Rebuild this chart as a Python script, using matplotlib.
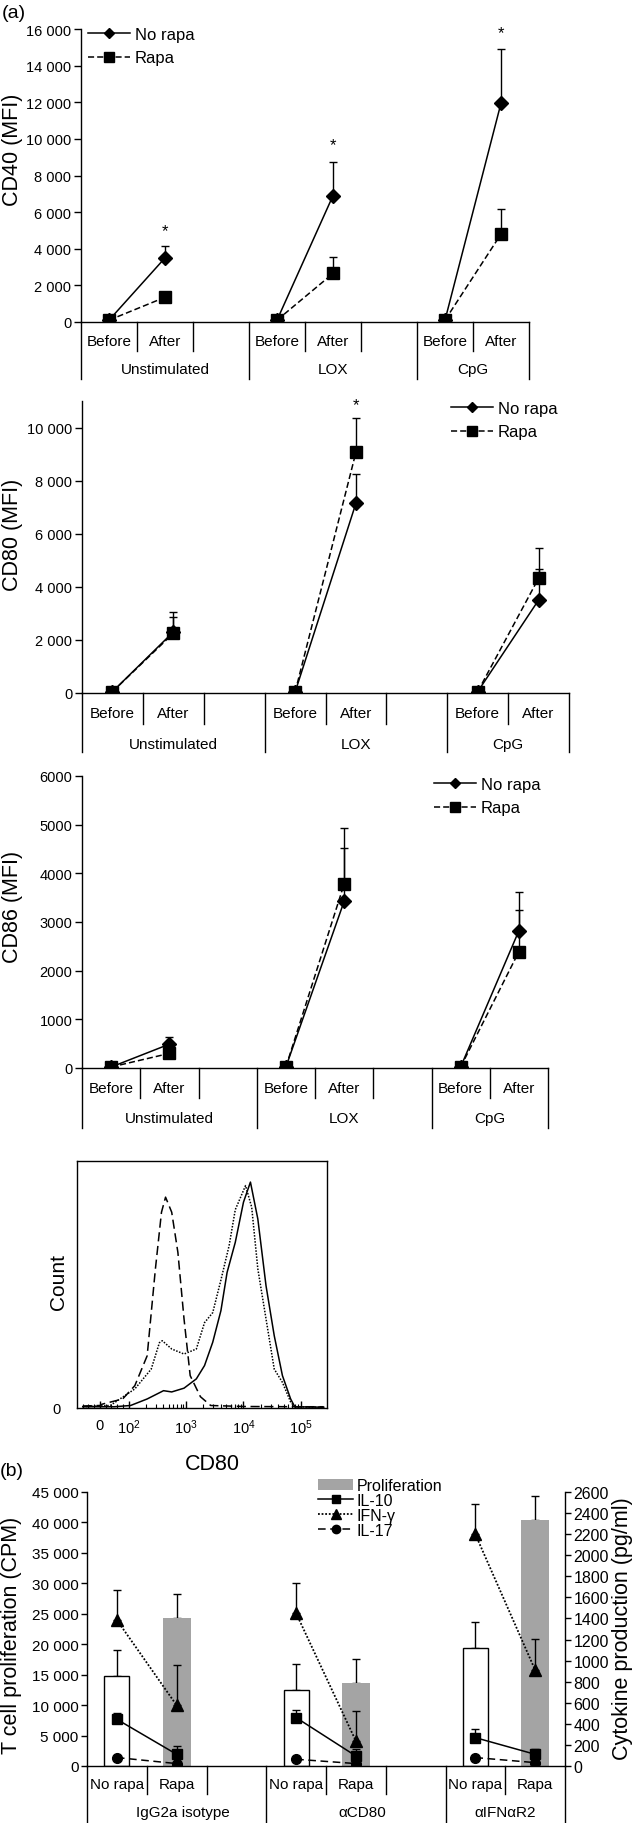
import numpy as np
import matplotlib
matplotlib.use('Agg')
import matplotlib.pyplot as plt
from matplotlib.lines import Line2D
from matplotlib.patches import Patch

plt.rcParams['font.family'] = ['Liberation Sans', 'DejaVu Sans']
plt.rcParams['mathtext.fontset'] = 'custom'
plt.rcParams['mathtext.rm'] = 'Liberation Sans'
plt.rcParams['mathtext.it'] = 'Liberation Sans:italic'
plt.rcParams['mathtext.bf'] = 'Liberation Sans:bold'
plt.rcParams['axes.linewidth'] = 1.0

# ---------------- data ----------------
stim_groups = ['Unstimulated', 'LOX', 'CpG']
timepoints = ['Before', 'After']

# values ordered: group0 before, group0 after, group1 before, ...
cd40_norapa = [100, 3500, 100, 6900, 100, 11950]
cd40_norapa_err = [0, 650, 0, 1850, 0, 2950]
cd40_rapa = [100, 1350, 100, 2650, 100, 4800]
cd40_rapa_err = [0, 0, 0, 900, 0, 1350]
cd40_star_groups = [0, 1, 2]
cd40_star_y = [5000, 9700, 15800]

cd80_norapa = [50, 2300, 30, 7150, 50, 3500]
cd80_norapa_err = [0, 570, 0, 1100, 0, 1170]
cd80_rapa = [50, 2250, 30, 9070, 50, 4320]
cd80_rapa_err = [0, 800, 0, 1280, 0, 1130]
cd80_star_groups = [1]
cd80_star_y = [10850]

cd86_norapa = [20, 490, 20, 3425, 20, 2820]
cd86_norapa_err = [0, 150, 0, 1090, 0, 430]
cd86_rapa = [20, 300, 20, 3780, 20, 2390]
cd86_rapa_err = [0, 200, 0, 1145, 0, 1220]

# flow histogram (CD80 fluorescence, % of max)
hist_dashed_x = [-60, 0, 7, 79, 128, 210, 291, 373, 439, 562, 720, 921, 1179, 1778, 2683, 10000, 100000, 250000]
hist_dashed_y = [0.8, 1, 1.5, 3.6, 8.9, 20.8, 55, 78, 84, 78, 62, 35.5, 12.9, 4.5, 1, 0.6, 0.5, 0.5]
hist_dotted_x = [-60, 36, 128, 247, 343, 385, 562, 921, 1509, 2096, 2913, 4047, 5623, 7197, 10860,
                 13900, 17780, 24700, 34340, 47700, 66300, 78200, 250000]
hist_dotted_y = [0.5, 1, 7.6, 15.5, 26, 26.8, 23.5, 21.5, 23.5, 34, 38, 51, 64.7, 79, 88.6,
                 80, 55.4, 35.5, 15.5, 10.2, 2.4, 0.5, 0.3]
hist_solid_x = [-60, 50, 108, 210, 405, 562, 921, 1509, 2096, 2913, 4047, 5180, 7197, 10000,
                13220, 17780, 24700, 34340, 47700, 66300, 78200, 250000]
hist_solid_y = [0.5, 0.5, 1, 3.6, 6.9, 6.4, 7.9, 11.6, 16.9, 26.2, 38.8, 54, 66, 82,
                90, 75.3, 48.7, 28.8, 12.9, 3.6, 0.5, 0.3]

# panel (b)
ab_groups = ['IgG2a isotype', 'αCD80', 'αIFNαR2']
rapa_cond = ['No rapa', 'Rapa']
prolif = [14780, 24370, 12480, 13580, 19380, 40410]
prolif_err = [4270, 3950, 4340, 4060, 4270, 3940]
il10 = [443, 111, 459, 95, 269, 111]
il10_err = [64, 79, 69, 63, 79, 54]
ifng = [1385, 576, 1449, 237, 2198, 911]
ifng_err = [282, 379, 291, 285, 285, 298]
il17 = [80, 23, 64, 23, 80, 32]

# ---------------- layout helpers ----------------
W, H = 634, 1824
fig = plt.figure(figsize=(W / 100, H / 100), dpi=100)


def box(l, t, r, b):
    return [l / W, 1 - b / H, (r - l) / W, (b - t) / H]


def slot_x(i):
    # index in the 6-value lists -> slot centre
    return (i // 2) * 3 + (i % 2) + 0.5


def cat_axis(ax, groups, subs, sub_drop, grp_drop, sub_lab, grp_lab, grp_pos, fs=11):
    hpx = ax.get_position().height * H
    tr = ax.get_xaxis_transform()
    for b in range(9):
        drop = grp_drop if b in (0, 3, 6, 8) else sub_drop
        ax.add_line(Line2D([b, b], [0, -drop / hpx], transform=tr, clip_on=False,
                           color='black', lw=1))
    for g in range(3):
        for s in range(2):
            ax.text(g * 3 + s + 0.5, -sub_lab / hpx, subs[s], transform=tr,
                    ha='center', va='center', fontsize=fs)
        ax.text(grp_pos[g], -grp_lab / hpx, groups[g], transform=tr,
                ha='center', va='center', fontsize=fs)


def space_fmt(v, pos=None):
    return f'{int(round(v)):,}'.replace(',', ' ')


def mfi_panel(rect, ymax, ystep, norapa, norapa_err, rapa, rapa_err, star_g, star_y,
              ylabel, ylab_y, leg_xy, fmt, cat_geom, ms_sq=9):
    ax = fig.add_axes(box(*rect))
    ax.set_xlim(0, 8)
    ax.set_ylim(0, ymax)
    for g in range(3):
        idx = [2 * g, 2 * g + 1]
        xs = [slot_x(i) for i in idx]
        ax.plot(xs, [rapa[i] for i in idx], color='black', lw=1.1, ls=(0, (4, 2)),
                marker='s', ms=ms_sq, zorder=3)
        ax.plot(xs, [norapa[i] for i in idx], color='black', lw=1.1, ls='-',
                marker='D', ms=7, zorder=4)
    for vals, errs in ((norapa, norapa_err), (rapa, rapa_err)):
        sel = [i for i in range(6) if errs[i] > 0]
        ax.errorbar([slot_x(i) for i in sel], [vals[i] for i in sel],
                    yerr=[[0] * len(sel), [errs[i] for i in sel]], fmt='none',
                    ecolor='black', elinewidth=1, capsize=3, capthick=1, zorder=2)
    for g, y in zip(star_g, star_y):
        ax.text(g * 3 + 1.5, y, '*', ha='center', va='center', fontsize=12, clip_on=False)
    ax.set_yticks(np.arange(0, ymax + 1, ystep))
    ax.yaxis.set_major_formatter(fmt)
    ax.tick_params(axis='y', direction='out', length=5, width=1, labelsize=10.5, pad=2)
    ax.set_xticks([])
    for s in ('top', 'right'):
        ax.spines[s].set_visible(False)
    ax.set_ylabel(ylabel, fontsize=15.5)
    wpx = ax.get_position().width * W
    ax.yaxis.set_label_coords((23 - rect[0]) / wpx, ylab_y)
    handles = [Line2D([], [], color='black', lw=1.1, marker='D', ms=5),
               Line2D([], [], color='black', lw=1.1, ls=(0, (4, 2)), marker='s', ms=6.5)]
    ax.legend(handles, ['No rapa', 'Rapa'], loc='upper left',
              bbox_to_anchor=(leg_xy[0] / W, 1 - leg_xy[1] / H), bbox_transform=fig.transFigure,
              frameon=False, fontsize=12, handlelength=2.5, handletextpad=0.3,
              labelspacing=0.5, borderpad=0, borderaxespad=0)
    cat_axis(ax, stim_groups, timepoints, *cat_geom, grp_pos=[1.5, 4.5, 7.0])
    return ax


fig.text(2 / W, 1 - 14 / H, '(a)', fontsize=14, ha='left', va='center')

mfi_panel((81, 30, 529, 323), 16000, 2000, cd40_norapa, cd40_norapa_err, cd40_rapa, cd40_rapa_err,
          cd40_star_groups, cd40_star_y, 'CD40 (MFI)', 0.59, (88, 28), space_fmt, (29, 57, 19, 47))
mfi_panel((82, 402, 569, 694), 11000, 2000, cd80_norapa, cd80_norapa_err, cd80_rapa, cd80_rapa_err,
          cd80_star_groups, cd80_star_y, 'CD80 (MFI)', 0.545, (451, 402), space_fmt, (31, 59, 20, 51))
mfi_panel((82, 777, 548, 1069), 6000, 1000, cd86_norapa, cd86_norapa_err, cd86_rapa, cd86_rapa_err,
          [], [], 'CD86 (MFI)', 0.555, (434, 778), lambda v, p=None: f'{int(v)}', (30, 60, 20, 50))

# ---------------- histogram ----------------
axh = fig.add_axes(box(77, 1162, 327, 1409))
axh.set_xscale('symlog', linthresh=100, linscale=0.45)
axh.set_xlim(-80, 2.85e5)
axh.set_ylim(0, 98.4)
axh.plot(hist_dashed_x, hist_dashed_y, color='black', lw=1.1, ls=(0, (6, 3)))
axh.plot(hist_dotted_x, hist_dotted_y, color='black', lw=1.1, ls=(0, (1, 1)))
axh.plot(hist_solid_x, hist_solid_y, color='black', lw=1.1, ls='-')
axh.set_xticks([0, 100, 1000, 10000, 100000])
axh.set_xticklabels(['0', '$10^2$', '$10^3$', '$10^4$', '$10^5$'])
minor = [k * 10 ** e for e in (2, 3, 4) for k in range(2, 10)] + [20, 40, 60, 80, -20, -40, -60]
axh.set_xticks(minor, minor=True)
axh.tick_params(axis='x', which='major', direction='in', length=5, width=1, labelsize=10.5, pad=7)
axh.tick_params(axis='x', which='minor', direction='in', length=3, width=0.8)
axh.set_yticks([0])
axh.set_yticklabels(['0'])
axh.tick_params(axis='y', length=0, labelsize=10.5, pad=12)
axh.set_ylabel('Count', fontsize=15)
axh.yaxis.set_label_coords((68 - 77) / 250, 0.514)
axh.set_xlabel('CD80', fontsize=15.5)
axh.xaxis.set_label_coords(0.54, -0.183)

# ---------------- panel (b) ----------------
fig.text(0 / W, 1 - 1472 / H, '(b)', fontsize=14, ha='left', va='center')
axb = fig.add_axes(box(87, 1493, 565, 1767))
axb.set_xlim(0, 8)
axb.set_ylim(0, 45000)
xn = [slot_x(i) for i in range(0, 6, 2)]
xr = [slot_x(i) for i in range(1, 6, 2)]
axb.bar(xn, prolif[0::2], width=0.42, color='white', edgecolor='black', lw=1, zorder=2)
axb.bar(xr, prolif[1::2], width=0.47, color='#a4a4a4', lw=0, zorder=2)
axb.errorbar([slot_x(i) for i in range(6)], prolif, yerr=[[0] * 6, prolif_err], fmt='none',
             ecolor='black', elinewidth=1, capsize=3, capthick=1, zorder=1)
axb.set_yticks(np.arange(0, 45001, 5000))
axb.yaxis.set_major_formatter(space_fmt)
axb.tick_params(axis='y', direction='out', length=4, width=1, labelsize=11, pad=2)
axb.set_xticks([])
axb.spines['top'].set_visible(False)
axb.spines['right'].set_visible(False)
axb.set_ylabel('T cell proliferation (CPM)', fontsize=15.5)
axb.yaxis.set_label_coords((22 - 87) / 478, 0.48)

ax2 = axb.twinx()
ax2.set_ylim(0, 2600)
for g in range(3):
    idx = [2 * g, 2 * g + 1]
    xs = [slot_x(i) for i in idx]
    ax2.plot(xs, [ifng[i] for i in idx], color='black', lw=1.3, ls=(0, (1, 1)), marker='^', ms=9)
    ax2.plot(xs, [il10[i] for i in idx], color='black', lw=1.1, ls='-', marker='s', ms=7)
    ax2.plot(xs, [il17[i] for i in idx], color='black', lw=1.1, ls=(0, (5, 3)), marker='o', ms=7)
for vals, errs in ((ifng, ifng_err), (il10, il10_err)):
    ax2.errorbar([slot_x(i) for i in range(6)], vals, yerr=[[0] * 6, errs], fmt='none',
                 ecolor='black', elinewidth=1, capsize=3, capthick=1)
ax2.set_yticks(np.arange(0, 2601, 200))
ax2.tick_params(axis='y', direction='out', length=4, width=1, labelsize=11.5, pad=2)
for s in ('top', 'left', 'bottom'):
    ax2.spines[s].set_visible(False)
ax2.set_ylabel('Cytokine production (pg/ml)', fontsize=15.5)
ax2.yaxis.set_label_coords((612 - 87) / 478, 0.505)

handles = [Patch(facecolor='#a4a4a4', edgecolor='none'),
           Line2D([], [], color='black', lw=1.1, marker='s', ms=6),
           Line2D([], [], color='black', lw=1.3, ls=(0, (1, 1)), marker='^', ms=7),
           Line2D([], [], color='black', lw=1.1, ls=(0, (5, 3)), marker='o', ms=6)]
ax2.legend(handles, ['Proliferation', 'IL-10', 'IFN-γ', 'IL-17'], loc='upper left',
           bbox_to_anchor=(318 / W, 1 - 1479 / H), bbox_transform=fig.transFigure,
           frameon=False, fontsize=11.5, handlelength=2.2, handletextpad=0.2,
           labelspacing=0.0, borderpad=0, borderaxespad=0)

cat_axis(axb, ab_groups, rapa_cond, 28, 60, 18, 46, grp_pos=[1.6, 4.6, 7.0])

fig.savefig('out.png', dpi=100)
